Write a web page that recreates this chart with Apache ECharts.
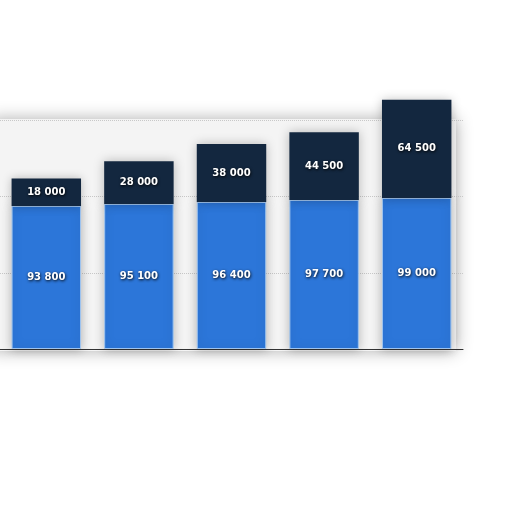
<!DOCTYPE html>
<html>
<head>
<meta charset="utf-8">
<script src="https://cdn.jsdelivr.net/npm/echarts@6/dist/echarts.min.js"></script>
<style>
  html, body { margin: 0; padding: 0; background: #fff; }
  #chart { width: 512px; height: 512px; }
</style>
</head>
<body>
<div id="chart"></div>
<script>
// data
var categories = ['2016', '2017', '2018', '2019', '2020']
var baseValues = [93800, 95100, 96400, 97700, 99000]
var topValues = [18000, 28000, 38000, 44500, 64500]

var fmt = function (p) {
  return String(p.value).replace(/\B(?=(\d{3})+(?!\d))/g, ' ')
}

var labelStyle = {
  show: true,
  position: 'inside',
  color: '#fff',
  fontFamily: 'DejaVu Sans',
  fontWeight: 'bold',
  fontSize: 10,
  textShadowColor: 'rgba(0,0,0,1)',
  textShadowBlur: 3,
  textShadowOffsetX: 0.5,
  textShadowOffsetY: 1,
  formatter: fmt
}

var chart = echarts.init(document.getElementById('chart'))
chart.setOption({
  animation: false,
  backgroundColor: '#fff',
  grid: { left: 0, right: 49, top: 44, bottom: 163 },
  graphic: [{
    type: 'rect',
    z: -10,
    silent: true,
    shape: { x: -10, y: 119, width: 466, height: 232 },
    style: {
      fill: '#f4f4f4',
      shadowBlur: 16,
      shadowColor: 'rgba(0,0,0,0.32)'
    }
  }],
  xAxis: {
    type: 'category',
    data: categories,
    axisLabel: { show: false },
    axisTick: { show: false },
    axisLine: { lineStyle: { color: '#333', width: 1 } }
  },
  yAxis: {
    type: 'value',
    min: 0,
    max: 200000,
    interval: 50000,
    axisLabel: { show: false },
    axisLine: { show: false },
    axisTick: { show: false },
    splitLine: {
      showMaxLine: false,
      lineStyle: { color: '#c8c8c8', type: 'dotted', width: 1 }
    }
  },
  series: [
    {
      type: 'bar',
      stack: 'total',
      data: baseValues,
      barCategoryGap: '25%',
      itemStyle: {
        color: '#2c76d9',
        borderColor: '#9fc4ee',
        borderWidth: 1,
        shadowBlur: 10,
        shadowColor: 'rgba(0,0,0,0.25)'
      },
      label: labelStyle
    },
    {
      type: 'bar',
      stack: 'total',
      data: topValues,
      itemStyle: {
        color: '#13273f',
        shadowBlur: 10,
        shadowColor: 'rgba(0,0,0,0.25)'
      },
      label: labelStyle
    }
  ]
})
</script>
</body>
</html>
